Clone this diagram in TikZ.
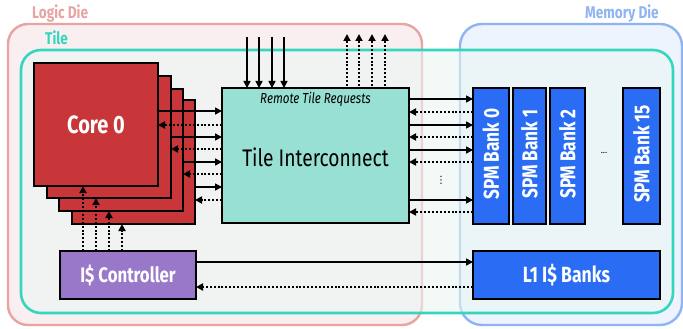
\documentclass[tikz,border=0pt]{standalone}
\usepackage{fontspec}
\setmainfont{Fira Sans}
\newfontfamily\cnd[FakeStretch=0.8]{Fira Sans}
\newfontfamily\djv{DejaVu Sans}
\usetikzlibrary{arrows.meta}
\definecolor{logicE}{HTML}{E8A3A3}
\definecolor{logicF}{HTML}{F9EFF0}
\definecolor{memE}{HTML}{8FB4F2}
\definecolor{memF}{HTML}{EEF4FD}
\definecolor{tileE}{HTML}{35D6BD}
\definecolor{tileF}{HTML}{EAF6F3}
\definecolor{coreF}{HTML}{C8363A}
\definecolor{icF}{HTML}{98E0D3}
\definecolor{spmF}{HTML}{2A6DF4}
\definecolor{purF}{HTML}{9A78C9}
\tikzset{
  blk/.style={draw=black, line width=2.6pt, inner sep=0pt, outer sep=0pt, anchor=north west},
  solidarrow/.style={line width=1.6pt, -{Triangle[length=7pt,width=7pt]}},
  dotarrow/.style={line width=2.1pt, dash pattern=on 2pt off 1.9pt, -{Triangle[length=7pt,width=7pt]}},
  dielabel/.style={font=\cnd\bfseries\fontsize{17}{17}\selectfont, anchor=west, inner sep=0pt},
  spmlabel/.style={font=\cnd\bfseries\fontsize{21.5}{21.5}\selectfont, text=white, rotate=90, inner sep=0pt},
}
\begin{document}
\begin{tikzpicture}[x=1pt, y=-1pt]
\useasboundingbox[fill=white] (0,0) rectangle (683,329);
% dies
\draw[line width=2.4pt, draw=logicE, fill=logicF, rounded corners=20pt] (8,24) rectangle (422,325);
\draw[line width=2.4pt, draw=memE, fill=memF, rounded corners=22pt] (460,24) rectangle (682,325);
\draw[line width=2.6pt, draw=tileE, fill=tileF, fill opacity=0.6, rounded corners=20pt] (21,50) rectangle (673,313);
\node[dielabel, text=logicE] (logiclbl) at (32,13) {Logic Die};
\node[dielabel, text=memE] (memlbl) at (585,13) {Memory Die};
\node[dielabel, text=tileE] (tilelbl) at (45,38) {Tile};
% cores
\node[blk, fill=coreF, minimum width=123pt, minimum height=124pt] (core3) at (72,100) {};
\node[blk, fill=coreF, minimum width=124pt, minimum height=122pt] (core2) at (59,89) {};
\node[blk, fill=coreF, minimum width=124pt, minimum height=122pt] (core1) at (47,76) {};
\node[blk, fill=coreF, minimum width=124pt, minimum height=123pt, font=\cnd\bfseries\fontsize{25}{25}\selectfont, text=white] (core0) at (34,63) {Core 0};
% interconnect
\node[blk, fill=icF, minimum width=187pt, minimum height=135pt] (ti) at (222,88) {};
\node[font=\cnd\fontsize{24}{24}\selectfont, inner sep=0pt] (tilbl) at (315.5,157) {Tile Interconnect};
\node[font=\cnd\itshape\fontsize{14.5}{14.5}\selectfont, inner sep=0pt] (rtr) at (315.5,99) {Remote Tile Requests};
% SPM banks
\node[blk, fill=spmF, minimum width=36pt, minimum height=136pt] (spm0) at (473,88) {};
\node[blk, fill=spmF, minimum width=33pt, minimum height=136pt] (spm1) at (513,88) {};
\node[blk, fill=spmF, minimum width=35pt, minimum height=136pt] (spm2) at (550,88) {};
\node[blk, fill=spmF, minimum width=37pt, minimum height=136pt] (spm15) at (623,88) {};
\node[spmlabel] (l0) at ([yshift=2pt]spm0.center) {SPM Bank 0};
\node[spmlabel] (l1) at ([yshift=2pt]spm1.center) {SPM Bank 1};
\node[spmlabel] (l2) at ([yshift=2pt]spm2.center) {SPM Bank 2};
\node[spmlabel] (l15) at ([yshift=2pt]spm15.center) {SPM Bank 15};
\node[font=\fontsize{9}{9}\selectfont, inner sep=0pt] (hdots) at (604,153) {...};
\node[font=\djv\fontsize{10}{10}\selectfont, inner sep=0pt] (vdots) at (441,180) {⋮};
% I$ controller and L1
\node[blk, fill=purF, minimum width=136pt, minimum height=48pt, font=\cnd\bfseries\fontsize{21}{21}\selectfont, text=white] (ic) at (60,251) {I\$ Controller};
\node[blk, fill=spmF, minimum width=187pt, minimum height=48pt, font=\cnd\bfseries\fontsize{22}{22}\selectfont, text=white] (l1i) at (473,251) {L1 I\$ Banks};
% core <-> interconnect
\draw[solidarrow] (core0.east |- 0,111) -- (ti.west |- 0,111);
\draw[dotarrow] (ti.west |- 0,125) -- (core0.east |- 0,125);
\draw[solidarrow] (core1.east |- 0,137) -- (ti.west |- 0,137);
\draw[dotarrow] (ti.west |- 0,149) -- (core1.east |- 0,149);
\draw[solidarrow] (core2.east |- 0,162) -- (ti.west |- 0,162);
\draw[dotarrow] (ti.west |- 0,174) -- (core2.east |- 0,174);
\draw[solidarrow] (core3.east |- 0,187) -- (ti.west |- 0,187);
\draw[dotarrow] (ti.west |- 0,200) -- (core3.east |- 0,200);
% remote tile requests
\coordinate (in1) at (247,37);
\coordinate (in2) at (259,37);
\coordinate (in3) at (272,37);
\coordinate (in4) at (284,37);
\foreach \c in {in1,in2,in3,in4} \draw[solidarrow] (\c) -- (ti.north -| \c);
\coordinate (out1) at (347,34);
\coordinate (out2) at (359,34);
\coordinate (out3) at (372,34);
\coordinate (out4) at (385,34);
\foreach \c in {out1,out2,out3,out4} \draw[dotarrow] (ti.north -| \c) ++(0,-2) -- (\c);
% interconnect <-> SPM
\draw[solidarrow] (ti.east |- 0,99) -- (spm0.west |- 0,99);
\draw[dotarrow] (spm0.west |- 0,112) -- (ti.east |- 0,112);
\draw[solidarrow] (ti.east |- 0,125) -- (spm0.west |- 0,125);
\draw[dotarrow] (spm0.west |- 0,137) -- (ti.east |- 0,137);
\draw[solidarrow] (ti.east |- 0,150) -- (spm0.west |- 0,150);
\draw[dotarrow] (spm0.west |- 0,162) -- (ti.east |- 0,162);
\draw[solidarrow] (ti.east |- 0,200) -- (spm0.west |- 0,200);
\draw[dotarrow] (spm0.west |- 0,212) -- (ti.east |- 0,212);
% I$ controller <-> cores
\draw[dotarrow] (ic.north -| 83,0) -- (core0.south -| 83,0);
\draw[dotarrow] (ic.north -| 96,0) -- (core1.south -| 96,0);
\draw[dotarrow] (ic.north -| 109,0) -- (core2.south -| 109,0);
\draw[dotarrow] (ic.north -| 122,0) -- (core3.south -| 122,0);
% I$ controller <-> L1
\draw[solidarrow] (ic.east |- 0,262) -- (l1i.west |- 0,262);
\draw[dotarrow] (l1i.west |- 0,287) -- (ic.east |- 0,287);
\end{tikzpicture}
\end{document}
